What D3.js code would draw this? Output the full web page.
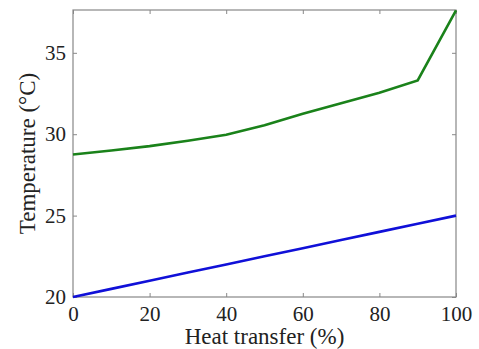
<!DOCTYPE html>
<html><head><meta charset="utf-8">
<script src="https://cdn.jsdelivr.net/npm/d3@7"></script>
<style>body{margin:0;background:#fff}svg{display:block}</style>
</head><body>
<script>
const heatTransfer = [0,10,20,30,40,50,60,70,80,90,100];
const greenTemp = [28.75,29.0,29.27,29.6,29.97,30.55,31.25,31.9,32.55,33.3,37.6];
const blueTemp = [20,20.5,21,21.5,22,22.5,23,23.5,24,24.5,25];
const xTicks = [0,20,40,60,80,100];
const yTicks = [20,25,30,35];

const W=479,H=349, L=73,R=456,T=10,B=297;
const svg=d3.select("body").append("svg").attr("width",W).attr("height",H);
const x=d3.scaleLinear().domain([0,100]).range([L,R]);
const y=d3.scaleLinear().domain([20,37.63]).range([B,T]);
const font="'Liberation Serif','Times New Roman',serif";
const axisColor="#888";

function styleAxis(g){g.select(".domain").remove();g.selectAll("line").attr("stroke",axisColor);g.selectAll("text").attr("font-family",font).attr("font-size",21).attr("fill","#222");}
svg.append("g").attr("transform",`translate(0,${B})`).call(d3.axisBottom(x).tickValues(xTicks).tickSizeInner(-4).tickPadding(9)).call(styleAxis);
svg.append("g").attr("transform",`translate(0,${T})`).call(d3.axisTop(x).tickValues(xTicks).tickSizeInner(-4).tickFormat("")).call(styleAxis);
svg.append("g").attr("transform",`translate(${L},0)`).call(d3.axisLeft(y).tickValues(yTicks).tickSizeInner(-4).tickPadding(7)).call(styleAxis);
svg.append("g").attr("transform",`translate(${R},0)`).call(d3.axisRight(y).tickValues(yTicks).tickSizeInner(-4).tickFormat("")).call(styleAxis);
svg.append("rect").attr("x",L).attr("y",T).attr("width",R-L).attr("height",B-T).attr("fill","none").attr("stroke",axisColor).attr("stroke-width",1.2);

const line=d3.line().x((d,i)=>x(heatTransfer[i])).y(d=>y(d));
svg.append("path").datum(greenTemp).attr("d",line).attr("fill","none").attr("stroke","#1a821a").attr("stroke-width",2.6);
svg.append("path").datum(blueTemp).attr("d",line).attr("fill","none").attr("stroke","#1010d8").attr("stroke-width",2.6);

svg.append("text").attr("x",(L+R)/2).attr("y",344).attr("text-anchor","middle").attr("font-family",font).attr("font-size",23).attr("fill","#222").text("Heat transfer (%)");
svg.append("text").attr("transform",`translate(35,${(T+B)/2}) rotate(-90)`).attr("text-anchor","middle").attr("font-family",font).attr("font-size",23).attr("fill","#222").text("Temperature (°C)");
</script>
</body></html>
